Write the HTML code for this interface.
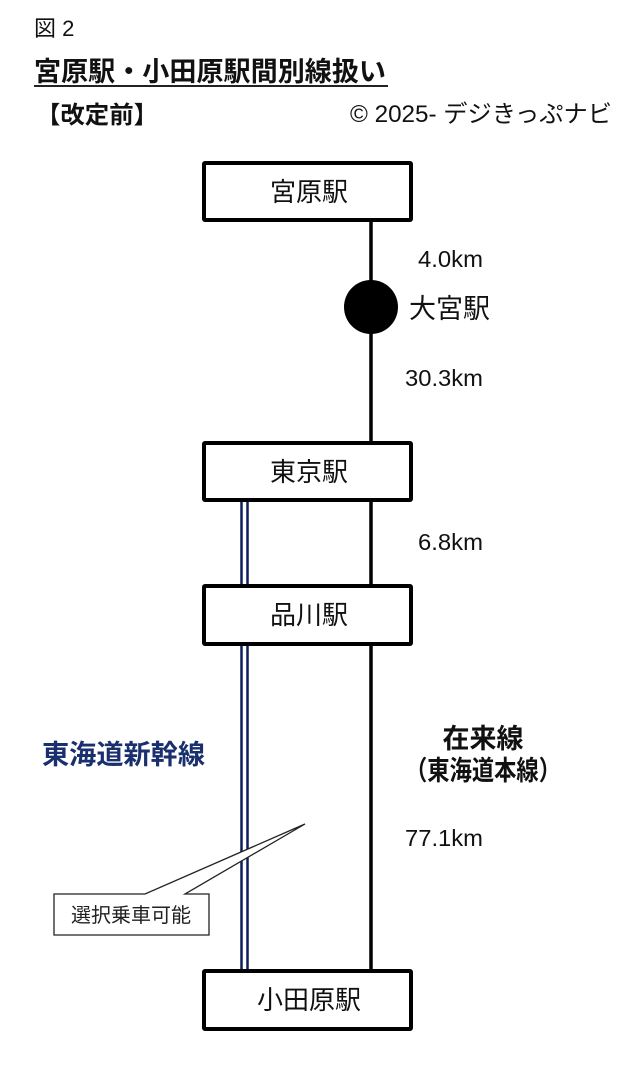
<!DOCTYPE html>
<html><head><meta charset="utf-8"><style>
html,body{margin:0;padding:0;background:#fff;}
svg{display:block;}
text{font-family:"Liberation Sans","Noto Sans CJK JP",sans-serif;}
</style></head><body>
<svg width="640" height="1070" viewBox="0 0 640 1070" xmlns="http://www.w3.org/2000/svg">
<text x="34" y="36" font-size="22" fill="#111">図 2</text>
<text x="34" y="81" font-size="27" font-weight="bold" fill="#111" textLength="352" lengthAdjust="spacingAndGlyphs">宮原駅・小田原駅間別線扱い</text>
<line x1="34" y1="86" x2="388" y2="86" stroke="#222" stroke-width="2"/>
<text x="36" y="123" font-size="24" font-weight="bold" fill="#111" textLength="122" lengthAdjust="spacingAndGlyphs">【改定前】</text>
<text x="350" y="122" font-size="24" fill="#111" textLength="262" lengthAdjust="spacingAndGlyphs">© 2025- デジきっぷナビ</text>

<line x1="371" y1="222" x2="371" y2="970" stroke="#000" stroke-width="3.5"/>
<circle cx="371" cy="307" r="27" fill="#000"/>

<line x1="241.5" y1="501" x2="241.5" y2="970" stroke="#0d1f5c" stroke-width="2.5"/>
<line x1="247.5" y1="501" x2="247.5" y2="970" stroke="#0d1f5c" stroke-width="2.5"/>

<rect x="204" y="163" width="207" height="57" fill="#fff" stroke="#000" stroke-width="4" rx="1"/>
<text x="309" y="201" font-size="26" text-anchor="middle" fill="#111">宮原駅</text>
<rect x="204" y="443" width="207" height="57" fill="#fff" stroke="#000" stroke-width="4" rx="1"/>
<text x="309" y="481" font-size="26" text-anchor="middle" fill="#111">東京駅</text>
<rect x="204" y="586" width="207" height="58" fill="#fff" stroke="#000" stroke-width="4" rx="1"/>
<text x="309" y="624" font-size="26" text-anchor="middle" fill="#111">品川駅</text>
<rect x="204" y="971" width="207" height="58" fill="#fff" stroke="#000" stroke-width="4" rx="1"/>
<text x="309" y="1009" font-size="26" text-anchor="middle" fill="#111">小田原駅</text>

<text x="418" y="267" font-size="23" fill="#111" textLength="65" lengthAdjust="spacingAndGlyphs">4.0km</text>
<text x="409" y="318" font-size="27" fill="#111">大宮駅</text>
<text x="405" y="386" font-size="23" fill="#111" textLength="78" lengthAdjust="spacingAndGlyphs">30.3km</text>
<text x="418" y="550" font-size="23" fill="#111" textLength="65" lengthAdjust="spacingAndGlyphs">6.8km</text>
<text x="405" y="846" font-size="23" fill="#111" textLength="78" lengthAdjust="spacingAndGlyphs">77.1km</text>

<text x="42" y="764" font-size="27" font-weight="bold" fill="#1a2f6e" textLength="163" lengthAdjust="spacingAndGlyphs">東海道新幹線</text>
<text x="483" y="748" font-size="27" font-weight="bold" fill="#111" text-anchor="middle">在来線</text>
<text x="405" y="780" font-size="27" font-weight="bold" fill="#111" textLength="156" lengthAdjust="spacingAndGlyphs">（東海道本線）</text>

<path d="M54 894 L145 894 L305 824 L185 894 L209 894 L209 935 L54 935 Z" fill="#fff" stroke="#222" stroke-width="1.3"/>
<text x="131" y="922" font-size="20" text-anchor="middle" fill="#222">選択乗車可能</text>
</svg>
</body></html>
